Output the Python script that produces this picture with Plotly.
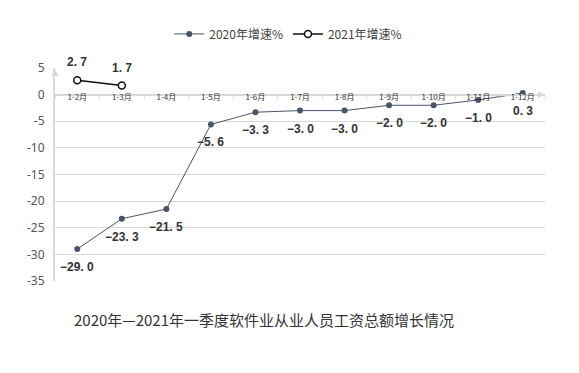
import plotly.graph_objects as go

categories = ["1-2月", "1-3月", "1-4月", "1-5月", "1-6月", "1-7月", "1-8月", "1-9月", "1-10月", "1-11月", "1-12月"]
growth_2020 = [-29.0, -23.3, -21.5, -5.6, -3.3, -3.0, -3.0, -2.0, -2.0, -1.0, 0.3]
cats_2021 = ["1-2月", "1-3月"]
growth_2021 = [2.7, 1.7]
y_ticks = [5, 0, -5, -10, -15, -20, -25, -30, -35]
title_text = "2020年—2021年一季度软件业从业人员工资总额增长情况"

def fmt(v):
    s = f"{v:.1f}".replace(".", ". ")
    return s.replace("-", "−")

fig = go.Figure()
fig.add_trace(go.Scatter(
    x=categories, y=growth_2020, mode="lines+markers", name="2020年增速%",
    line=dict(color="#4a5468", width=1),
    marker=dict(color="#4a5468", size=6),
))
fig.add_trace(go.Scatter(
    x=cats_2021, y=growth_2021, mode="lines+markers", name="2021年增速%",
    line=dict(color="#111111", width=1.5),
    marker=dict(color="white", size=7, line=dict(color="#111111", width=1.5)),
))

label_font = dict(size=12, color="#333333", family="Liberation Sans")
annotations = []
for c, v in zip(categories, growth_2020):
    annotations.append(dict(x=c, y=v, xref="x", yref="y", text="<b>" + fmt(v) + "</b>",
                            showarrow=False, yshift=-18, font=label_font))
for c, v in zip(cats_2021, growth_2021):
    annotations.append(dict(x=c, y=v, xref="x", yref="y", text="<b>" + fmt(v) + "</b>",
                            showarrow=False, yshift=18, font=label_font))
annotations.append(dict(x=0.427, y=-0.179, xref="paper", yref="paper", text=title_text, showarrow=False,
                        xanchor="center", yanchor="middle",
                        font=dict(size=15, color="#333333", family="Noto Sans CJK SC")))

shapes = [
    dict(type="path", xref="paper", yref="y", xsizemode="pixel", ysizemode="pixel",
         xanchor=1, yanchor=0, path="M -7,-3.5 L 0,0 L -7,3.5 Z",
         fillcolor="#d9d9d9", line=dict(color="#d9d9d9", width=0)),
    dict(type="path", xref="paper", yref="paper", xsizemode="pixel", ysizemode="pixel",
         xanchor=0, yanchor=1, path="M -3.5,-8 L 0,-1 L 3.5,-8 Z",
         fillcolor="#d9d9d9", line=dict(color="#d9d9d9", width=0)),
]

# page body has an 8px margin; size the figure so the plot area lands where the reference has it
fig.update_layout(
    width=571, height=365,
    margin=dict(l=47, r=34, t=55, b=92),
    paper_bgcolor="white", plot_bgcolor="white",
    font=dict(family="Noto Sans CJK SC", color="#555555"),
    showlegend=True,
    legend=dict(orientation="h", x=0.476, xanchor="center", y=1.16, yanchor="middle",
                font=dict(size=12, color="#444444"), itemwidth=30, traceorder="normal"),
    annotations=annotations,
    shapes=shapes,
    xaxis=dict(
        type="category", categoryorder="array", categoryarray=categories,
        range=[-0.5, 10.5], anchor="free", position=0.875, automargin=False,
        showline=True, linecolor="#d9d9d9", linewidth=2,
        ticks="outside", ticklen=3, tickcolor="#d9d9d9", tickson="boundaries",
        ticklabelstandoff=-5,
        tickfont=dict(size=8, color="#333333", family="Noto Sans CJK SC"),
        showgrid=False, zeroline=False, fixedrange=True,
    ),
    yaxis=dict(
        range=[-35, 5], tickvals=y_ticks, ticktext=[str(t) for t in y_ticks],
        automargin=False,
        showline=True, linecolor="#d9d9d9", linewidth=2,
        showgrid=True, gridcolor="#d9d9d9", gridwidth=1, zeroline=False,
        ticks="", ticklabelstandoff=6,
        tickfont=dict(size=12, color="#555555", family="Noto Sans"),
    ),
)

fig.write_html("out.html")
